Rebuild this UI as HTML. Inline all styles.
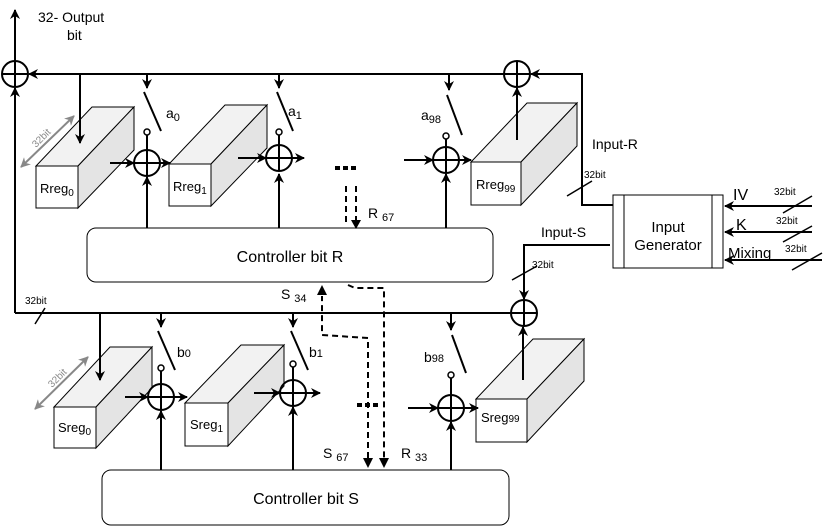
<!DOCTYPE html>
<html><head><meta charset="utf-8"><style>
html,body{margin:0;padding:0;background:#fff}
svg{display:block}
text{font-family:"Liberation Sans",sans-serif;fill:#000}
</style></head><body>
<svg width="830" height="527" viewBox="0 0 830 527" xmlns="http://www.w3.org/2000/svg">
<defs>
<marker id="ar" markerWidth="10" markerHeight="10" refX="9" refY="5" orient="auto" markerUnits="userSpaceOnUse"><path d="M0,0 L10,5 L0,10 L3,5 z" fill="#000"/></marker>
<marker id="ag" markerWidth="10" markerHeight="10" refX="9" refY="5" orient="auto-start-reverse" markerUnits="userSpaceOnUse"><path d="M0,0 L10,5 L0,10 L3,5 z" fill="#888"/></marker>
<g id="x"><circle r="13" fill="none" stroke="#000" stroke-width="2"/><line x1="-13" y1="0" x2="13" y2="0" stroke="#000" stroke-width="2"/><line x1="0" y1="-13" x2="0" y2="13" stroke="#000" stroke-width="2"/></g>
</defs>
<!-- boxes -->
<g stroke="#000" stroke-width="1">
<polygon points="36,166 78,166 134,107 92,107" fill="#f2f2f2"/><polygon points="78,166 134,107 134,150 78,208" fill="#e4e4e4"/><rect x="36" y="166" width="42" height="42" fill="#fff"/>
<polygon points="169,164 211,164 267,105 225,105" fill="#f2f2f2"/><polygon points="211,164 267,105 267,148 211,206" fill="#e4e4e4"/><rect x="169" y="164" width="42" height="42" fill="#fff"/>
<polygon points="471,162 521,162 577,103 527,103" fill="#f2f2f2"/><polygon points="521,162 577,103 577,146 521,205" fill="#e4e4e4"/><rect x="471" y="162" width="50" height="43" fill="#fff"/>
<polygon points="54,407 96,407 152,347 110,347" fill="#f2f2f2"/><polygon points="96,407 152,347 152,388 96,448" fill="#e4e4e4"/><rect x="54" y="407" width="42" height="41" fill="#fff"/>
<polygon points="185,403 228,403 284,345 241,345" fill="#f2f2f2"/><polygon points="228,403 284,345 284,386 228,446" fill="#e4e4e4"/><rect x="185" y="403" width="43" height="43" fill="#fff"/>
<polygon points="476,399 527,399 584,339 533,339" fill="#f2f2f2"/><polygon points="527,399 584,339 584,381 527,442" fill="#e4e4e4"/><rect x="476" y="399" width="51" height="43" fill="#fff"/>
</g>
<g stroke="#000" stroke-width="2" fill="none">
<line x1="15" y1="61" x2="15" y2="10" marker-end="url(#ar)"/>
<line x1="15" y1="313" x2="15" y2="88" marker-end="url(#ar)"/>
<line x1="504" y1="74" x2="29" y2="74" marker-end="url(#ar)"/>
<polyline points="613,205 582,205 582,74 531,74" marker-end="url(#ar)"/>
<line x1="517" y1="140" x2="517" y2="88" marker-end="url(#ar)"/>
<line x1="80" y1="74" x2="80" y2="143" marker-end="url(#ar)"/>
<line x1="147" y1="74" x2="147" y2="88" marker-end="url(#ar)"/>
<line x1="279" y1="74" x2="279" y2="88" marker-end="url(#ar)"/>
<line x1="449" y1="74" x2="449" y2="90" marker-end="url(#ar)"/>
<line x1="144" y1="92" x2="161" y2="131"/>
<line x1="277" y1="92" x2="293" y2="131"/>
<line x1="447" y1="95" x2="462" y2="135"/>
<line x1="147" y1="135" x2="147" y2="150"/>
<line x1="279" y1="135" x2="279" y2="147"/>
<line x1="446" y1="139" x2="446" y2="147"/>
<line x1="147" y1="228" x2="147" y2="177" marker-end="url(#ar)"/>
<line x1="279" y1="228" x2="279" y2="174" marker-end="url(#ar)"/>
<line x1="446" y1="228" x2="446" y2="174" marker-end="url(#ar)"/>
<line x1="110" y1="163" x2="134" y2="163" marker-end="url(#ar)"/>
<line x1="160" y1="163" x2="170" y2="163" marker-end="url(#ar)"/>
<line x1="238" y1="158" x2="266" y2="158" marker-end="url(#ar)"/>
<line x1="292" y1="158" x2="304" y2="158" marker-end="url(#ar)"/>
<line x1="404" y1="160" x2="433" y2="160" marker-end="url(#ar)"/>
<line x1="459" y1="160" x2="471" y2="160" marker-end="url(#ar)"/>
<line x1="15" y1="313" x2="511" y2="313"/>
<polyline points="610,245 524,245 524,299" marker-end="url(#ar)"/>
<line x1="523" y1="380" x2="523" y2="327" marker-end="url(#ar)"/>
<line x1="100" y1="313" x2="100" y2="380" marker-end="url(#ar)"/>
<line x1="161" y1="313" x2="161" y2="327" marker-end="url(#ar)"/>
<line x1="293" y1="313" x2="293" y2="327" marker-end="url(#ar)"/>
<line x1="451" y1="313" x2="451" y2="330" marker-end="url(#ar)"/>
<line x1="158" y1="331" x2="175" y2="370"/>
<line x1="291" y1="331" x2="308" y2="370"/>
<line x1="452" y1="335" x2="466" y2="373"/>
<line x1="161" y1="371" x2="161" y2="384"/>
<line x1="293" y1="367" x2="293" y2="380"/>
<line x1="451" y1="378" x2="451" y2="395"/>
<line x1="161" y1="470" x2="161" y2="411" marker-end="url(#ar)"/>
<line x1="293" y1="470" x2="293" y2="407" marker-end="url(#ar)"/>
<line x1="451" y1="470" x2="451" y2="422" marker-end="url(#ar)"/>
<line x1="125" y1="397" x2="148" y2="397" marker-end="url(#ar)"/>
<line x1="174" y1="397" x2="187" y2="397" marker-end="url(#ar)"/>
<line x1="254" y1="393" x2="280" y2="393" marker-end="url(#ar)"/>
<line x1="306" y1="393" x2="320" y2="393" marker-end="url(#ar)"/>
<line x1="408" y1="408" x2="438" y2="408" marker-end="url(#ar)"/>
<line x1="464" y1="408" x2="478" y2="408" marker-end="url(#ar)"/>
<line x1="812" y1="206" x2="725" y2="206" marker-end="url(#ar)"/>
<line x1="812" y1="232" x2="725" y2="232" marker-end="url(#ar)"/>
<line x1="822" y1="260" x2="725" y2="260" marker-end="url(#ar)"/>
</g>
<g stroke="#000" stroke-width="1.5">
<line x1="567" y1="196" x2="592" y2="181"/>
<line x1="783" y1="213" x2="812" y2="196"/>
<line x1="783" y1="242" x2="812" y2="226"/>
<line x1="792" y1="270" x2="822" y2="253"/>
<line x1="512" y1="280" x2="537" y2="266"/>
<line x1="35" y1="324" x2="45" y2="308"/>
</g>
<g fill="#fff" stroke="#000" stroke-width="1.5">
<circle cx="147" cy="132" r="3"/><circle cx="279" cy="132" r="3"/><circle cx="446" cy="136" r="3"/>
<circle cx="161" cy="368" r="3"/><circle cx="293" cy="364" r="3"/><circle cx="451" cy="375" r="3"/>
</g>
<use href="#x" x="15" y="74"/><use href="#x" x="517" y="74"/>
<use href="#x" x="147" y="163"/><use href="#x" x="279" y="158"/><use href="#x" x="446" y="160"/>
<use href="#x" x="524" y="313"/>
<use href="#x" x="161" y="397"/><use href="#x" x="293" y="393"/><use href="#x" x="451" y="408"/>
<line x1="21" y1="167" x2="74" y2="116" stroke="#888" stroke-width="2" marker-end="url(#ag)" marker-start="url(#ag)"/>
<line x1="35" y1="409" x2="88" y2="357" stroke="#888" stroke-width="2" marker-end="url(#ag)" marker-start="url(#ag)"/>
<rect x="87" y="228" width="406" height="54" rx="9" fill="#fff" stroke="#000" stroke-width="1"/>
<rect x="102" y="470" width="407" height="55" rx="9" fill="#fff" stroke="#000" stroke-width="1"/>
<rect x="613" y="195" width="110" height="73" fill="#fff" stroke="#000" stroke-width="1"/>
<line x1="624" y1="195" x2="624" y2="268" stroke="#000"/><line x1="712" y1="195" x2="712" y2="268" stroke="#000"/>
<g stroke="#000" stroke-width="4" stroke-dasharray="5,3"><line x1="335" y1="168" x2="358" y2="168"/><line x1="357" y1="405" x2="380" y2="405"/></g>
<g stroke="#000" stroke-width="2" fill="none" stroke-dasharray="6,4">
<line x1="346" y1="186" x2="346" y2="226"/>
<line x1="356" y1="186" x2="356" y2="220"/>
<polyline points="368,458 368,338 322,335 322,296"/>
<polyline points="348,285 355,288 384,288 384,458"/>
</g>
<g fill="#000">
<path d="M351,220 L361,220 L356,229 z"/>
<path d="M317,295 L327,295 L322,285 z"/>
<path d="M363,458 L373,458 L368,468 z"/>
<path d="M379,458 L389,458 L384,468 z"/>
</g>
<text x="38" y="22" font-size="14">32- Output</text>
<text x="67" y="40" font-size="14">bit</text>
<text x="166" y="118" font-size="14">a<tspan font-size="11" dy="3">0</tspan></text>
<text x="288" y="116" font-size="14">a<tspan font-size="11" dy="3">1</tspan></text>
<text x="421" y="120" font-size="14">a<tspan font-size="11" dy="3">98</tspan></text>
<text x="40" y="193" font-size="13">Rreg<tspan font-size="10" dy="3">0</tspan></text>
<text x="173" y="191" font-size="13">Rreg<tspan font-size="10" dy="3">1</tspan></text>
<text x="476" y="189" font-size="13">Rreg<tspan font-size="10" dy="3">99</tspan></text>
<text x="58" y="432" font-size="13">Sreg<tspan font-size="10" dy="3">0</tspan></text>
<text x="190" y="429" font-size="13">Sreg<tspan font-size="10" dy="3">1</tspan></text>
<text x="481" y="422" font-size="13">Sreg<tspan font-size="10">99</tspan></text>
<text x="177" y="357" font-size="14">b<tspan font-size="11">0</tspan></text>
<text x="309" y="357" font-size="14">b<tspan font-size="11">1</tspan></text>
<text x="424" y="362" font-size="14">b<tspan font-size="11">98</tspan></text>
<text x="368" y="218" font-size="14">R <tspan font-size="11" dy="3">67</tspan></text>
<text x="281" y="299" font-size="14">S <tspan font-size="11" dy="3">34</tspan></text>
<text x="323" y="458" font-size="14">S <tspan font-size="11" dy="3">67</tspan></text>
<text x="401" y="458" font-size="14">R <tspan font-size="11" dy="3">33</tspan></text>
<text x="290" y="262" font-size="16" text-anchor="middle">Controller  bit R</text>
<text x="306" y="504" font-size="16" text-anchor="middle">Controller  bit S</text>
<text x="668" y="232" font-size="15" text-anchor="middle">Input</text>
<text x="668" y="250" font-size="15" text-anchor="middle">Generator</text>
<text x="592" y="149" font-size="14">Input-R</text>
<text x="541" y="237" font-size="14">Input-S</text>
<text x="733" y="200" font-size="16">IV</text>
<text x="736" y="230" font-size="16">K</text>
<text x="728" y="258" font-size="15">Mixing</text>
<g font-size="10"><text x="584" y="178">32bit</text><text x="774" y="195">32bit</text><text x="776" y="224">32bit</text><text x="785" y="252">32bit</text><text x="532" y="268">32bit</text><text x="25" y="304">32bit</text></g>
<text font-size="10" style="fill:#888" transform="translate(36,148) rotate(-45)">32bit</text>
<text font-size="10" style="fill:#888" transform="translate(52,388) rotate(-45)">32bit</text>
</svg>
</body></html>
